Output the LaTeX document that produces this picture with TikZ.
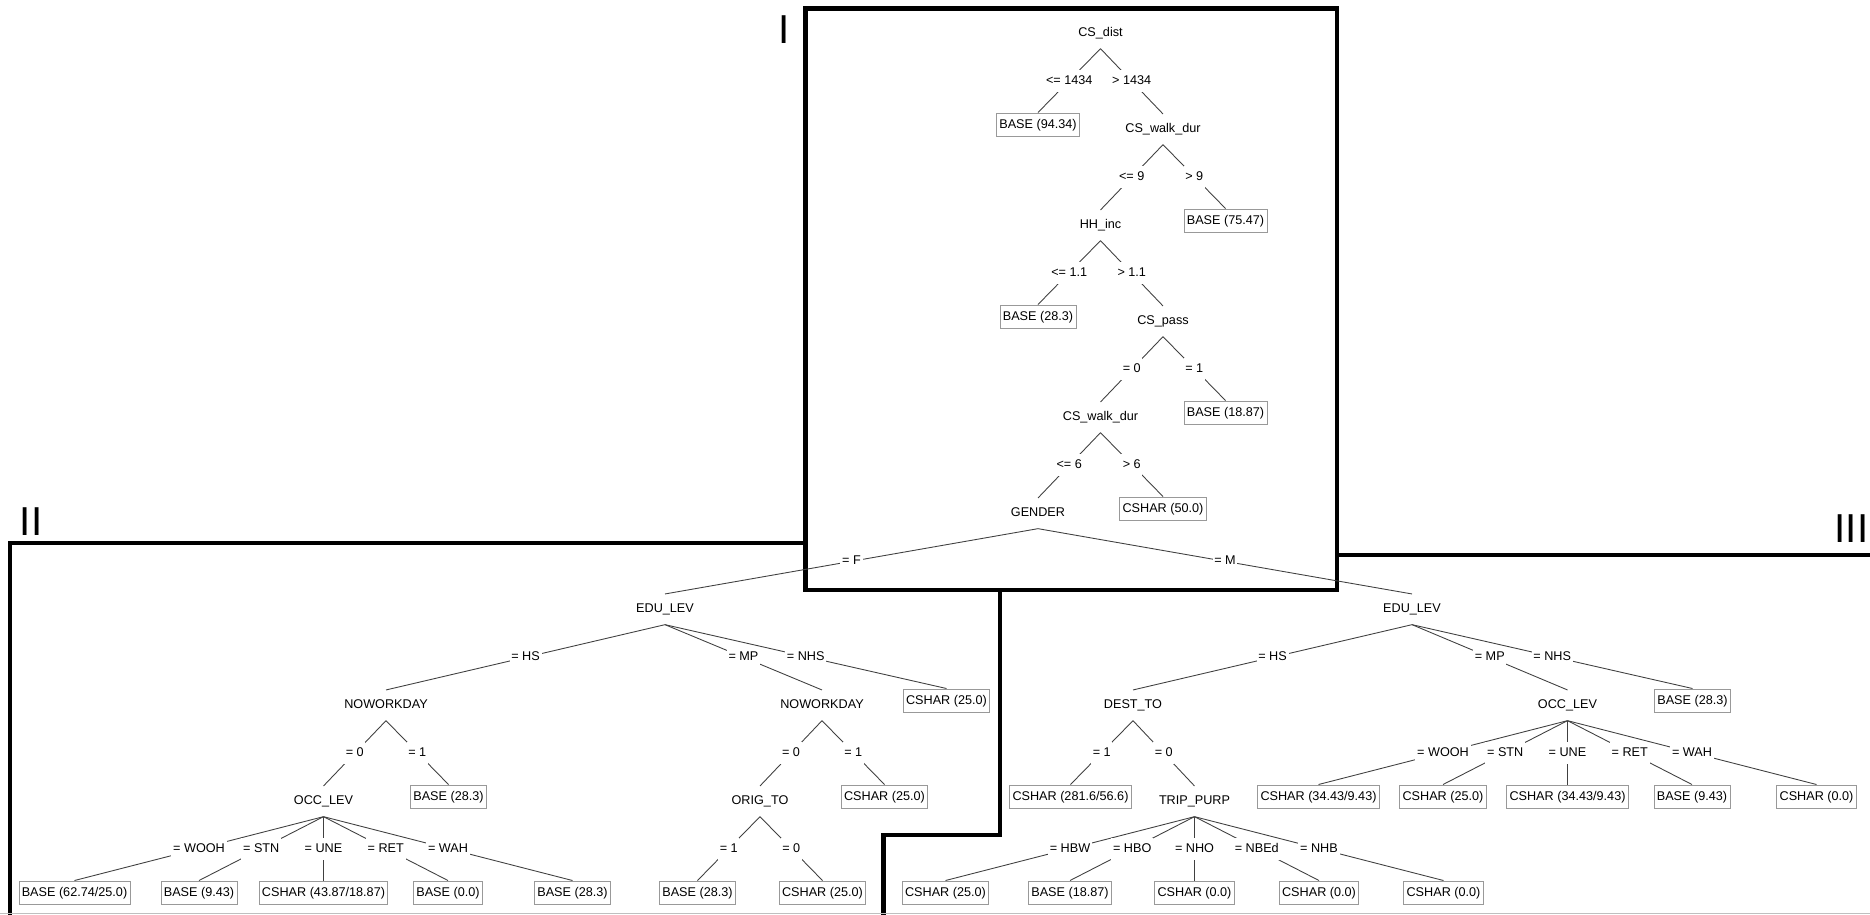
\documentclass[tikz,border=0pt]{standalone}
\usepackage{fontspec}
\setmainfont{Liberation Sans}

\tikzset{
    % Attribute (split) nodes
    splitnode/.style={
        inner sep=0pt,
        minimum height=0.6cm,
        text height=5.5pt,
        text depth=1.5pt,
        font=\fontsize{7.2}{8.6}\selectfont
    },
    % Leaf boxes (class and counts)
    leafbox/.style={
        draw=black!40,
        fill=white,
        inner xsep=1.6pt,
        inner ysep=0pt,
        minimum height=0.47cm,
        text height=5.5pt,
        text depth=1.5pt,
        font=\fontsize{7.2}{8.6}\selectfont
    },
    % Branch condition labels
    edgelabel/.style={
        fill=white,
        inner xsep=1pt,
        inner ysep=0pt,
        minimum height=0.44cm,
        text height=5.5pt,
        text depth=1.5pt,
        font=\fontsize{7.2}{8.6}\selectfont
    },
    % Tree branches
    branch/.style={
        draw=black!75,
        line width=0.5pt
    },
    % Thick region frames
    regionframe/.style={
        draw=black,
        line width=2.3pt
    },
    % Region numbers
    regionlabel/.style={
        inner sep=0pt,
        font=\fontsize{23}{26}\selectfont
    }
}

\begin{document}
\begin{tikzpicture}[x=0.02cm, y=-0.02cm]
\useasboundingbox (0,0) rectangle (1870,914);

% ==================== REGION FRAMES ====================
\draw[regionframe] (805.5,8.5) rectangle (1337,590);
\draw[regionframe] (805.5,543) -- (10,543) -- (10,916);
\draw[regionframe] (1000,590) -- (1000,835) -- (883.5,835) -- (883.5,916);
\draw[regionframe] (1337,555) -- (1872,555);
\draw[black!25] (0,913) -- (1870,913);

\node[regionlabel] (lab_one) at (783.7,29.7) {I};
\node[regionlabel] (lab_two) at (31,521.5) {II};
\node[regionlabel] (lab_three) at (1851.5,529) {III};

% ==================== REGION I: TRUNK ====================
\node[splitnode] (cs_dist) at (1100.5,33.3) {CS\_dist};
\node[leafbox] (base_a) at (1038,124.6) {BASE (94.34)};
\node[splitnode] (walk_a) at (1163,129.3) {CS\_walk\_dur};
\node[splitnode] (hh_inc) at (1100.5,225.3) {HH\_inc};
\node[leafbox] (base_b) at (1225.5,220.6) {BASE (75.47)};
\node[leafbox] (base_c) at (1038,316.6) {BASE (28.3)};
\node[splitnode] (cs_pass) at (1163,321.3) {CS\_pass};
\node[splitnode] (walk_b) at (1100.5,417.3) {CS\_walk\_dur};
\node[leafbox] (base_d) at (1225.5,412.6) {BASE (18.87)};
\node[splitnode] (gender) at (1038,513.3) {GENDER};
\node[leafbox] (cshar_a) at (1163,508.6) {CSHAR (50.0)};

\draw[branch] (cs_dist.south) -- node[edgelabel] {<= 1434} (base_a.north);
\draw[branch] (cs_dist.south) -- node[edgelabel] {> 1434} (walk_a.north);
\draw[branch] (walk_a.south) -- node[edgelabel] {<= 9} (hh_inc.north);
\draw[branch] (walk_a.south) -- node[edgelabel] {> 9} (base_b.north);
\draw[branch] (hh_inc.south) -- node[edgelabel] {<= 1.1} (base_c.north);
\draw[branch] (hh_inc.south) -- node[edgelabel] {> 1.1} (cs_pass.north);
\draw[branch] (cs_pass.south) -- node[edgelabel] {= 0} (walk_b.north);
\draw[branch] (cs_pass.south) -- node[edgelabel] {= 1} (base_d.north);
\draw[branch] (walk_b.south) -- node[edgelabel] {<= 6} (gender.north);
\draw[branch] (walk_b.south) -- node[edgelabel] {> 6} (cshar_a.north);

% ==================== REGION II: GENDER = F ====================
\node[splitnode] (edu_f) at (665,609.3) {EDU\_LEV};
\node[splitnode] (nowd_f1) at (386,705.3) {NOWORKDAY};
\node[splitnode] (nowd_f2) at (822,705.3) {NOWORKDAY};
\node[leafbox] (cshar_f1) at (946.5,700.6) {CSHAR (25.0)};
\node[splitnode] (occ_f) at (323.5,801.3) {OCC\_LEV};
\node[leafbox] (base_f1) at (448.5,796.6) {BASE (28.3)};
\node[splitnode] (orig_to) at (760,801.3) {ORIG\_TO};
\node[leafbox] (cshar_f2) at (884.5,796.6) {CSHAR (25.0)};

\node[leafbox] (base_f2) at (74.5,892.6) {BASE (62.74/25.0)};
\node[leafbox] (base_f3) at (199,892.6) {BASE (9.43)};
\node[leafbox] (cshar_f3) at (323.5,892.6) {CSHAR (43.87/18.87)};
\node[leafbox] (base_f4) at (448,892.6) {BASE (0.0)};
\node[leafbox] (base_f5) at (572.5,892.6) {BASE (28.3)};
\node[leafbox] (base_f6) at (697.5,892.6) {BASE (28.3)};
\node[leafbox] (cshar_f4) at (822.5,892.6) {CSHAR (25.0)};

\draw[branch] (gender.south) -- node[edgelabel] {= F} (edu_f.north);
\draw[branch] (edu_f.south) -- node[edgelabel] {= HS} (nowd_f1.north);
\draw[branch] (edu_f.south) -- node[edgelabel] {= MP} (nowd_f2.north);
\draw[branch] (edu_f.south) -- node[edgelabel] {= NHS} (cshar_f1.north);
\draw[branch] (nowd_f1.south) -- node[edgelabel] {= 0} (occ_f.north);
\draw[branch] (nowd_f1.south) -- node[edgelabel] {= 1} (base_f1.north);
\draw[branch] (nowd_f2.south) -- node[edgelabel] {= 0} (orig_to.north);
\draw[branch] (nowd_f2.south) -- node[edgelabel] {= 1} (cshar_f2.north);
\draw[branch] (occ_f.south) -- node[edgelabel] {= WOOH} (base_f2.north);
\draw[branch] (occ_f.south) -- node[edgelabel] {= STN} (base_f3.north);
\draw[branch] (occ_f.south) -- node[edgelabel] {= UNE} (cshar_f3.north);
\draw[branch] (occ_f.south) -- node[edgelabel] {= RET} (base_f4.north);
\draw[branch] (occ_f.south) -- node[edgelabel] {= WAH} (base_f5.north);
\draw[branch] (orig_to.south) -- node[edgelabel] {= 1} (base_f6.north);
\draw[branch] (orig_to.south) -- node[edgelabel] {= 0} (cshar_f4.north);

% ==================== REGION III: GENDER = M ====================
\node[splitnode] (edu_m) at (1412,609.3) {EDU\_LEV};
\node[splitnode] (dest_to) at (1133,705.3) {DEST\_TO};
\node[splitnode] (occ_m) at (1567.5,705.3) {OCC\_LEV};
\node[leafbox] (base_m1) at (1692.5,700.6) {BASE (28.3)};
\node[leafbox] (cshar_m1) at (1070.5,796.6) {CSHAR (281.6/56.6)};
\node[splitnode] (trip_purp) at (1194.5,801.3) {TRIP\_PURP};

\node[leafbox] (cshar_m2) at (1318.5,796.6) {CSHAR (34.43/9.43)};
\node[leafbox] (cshar_m3) at (1443,796.6) {CSHAR (25.0)};
\node[leafbox] (cshar_m4) at (1567.5,796.6) {CSHAR (34.43/9.43)};
\node[leafbox] (base_m2) at (1692,796.6) {BASE (9.43)};
\node[leafbox] (cshar_m5) at (1816.5,796.6) {CSHAR (0.0)};

\node[leafbox] (cshar_m6) at (945.5,892.6) {CSHAR (25.0)};
\node[leafbox] (base_m3) at (1070,892.6) {BASE (18.87)};
\node[leafbox] (cshar_m7) at (1194.5,892.6) {CSHAR (0.0)};
\node[leafbox] (cshar_m8) at (1319,892.6) {CSHAR (0.0)};
\node[leafbox] (cshar_m9) at (1443.5,892.6) {CSHAR (0.0)};

\draw[branch] (gender.south) -- node[edgelabel] {= M} (edu_m.north);
\draw[branch] (edu_m.south) -- node[edgelabel] {= HS} (dest_to.north);
\draw[branch] (edu_m.south) -- node[edgelabel] {= MP} (occ_m.north);
\draw[branch] (edu_m.south) -- node[edgelabel] {= NHS} (base_m1.north);
\draw[branch] (dest_to.south) -- node[edgelabel] {= 1} (cshar_m1.north);
\draw[branch] (dest_to.south) -- node[edgelabel] {= 0} (trip_purp.north);
\draw[branch] (occ_m.south) -- node[edgelabel] {= WOOH} (cshar_m2.north);
\draw[branch] (occ_m.south) -- node[edgelabel] {= STN} (cshar_m3.north);
\draw[branch] (occ_m.south) -- node[edgelabel] {= UNE} (cshar_m4.north);
\draw[branch] (occ_m.south) -- node[edgelabel] {= RET} (base_m2.north);
\draw[branch] (occ_m.south) -- node[edgelabel] {= WAH} (cshar_m5.north);
\draw[branch] (trip_purp.south) -- node[edgelabel] {= HBW} (cshar_m6.north);
\draw[branch] (trip_purp.south) -- node[edgelabel] {= HBO} (base_m3.north);
\draw[branch] (trip_purp.south) -- node[edgelabel] {= NHO} (cshar_m7.north);
\draw[branch] (trip_purp.south) -- node[edgelabel] {= NBEd} (cshar_m8.north);
\draw[branch] (trip_purp.south) -- node[edgelabel] {= NHB} (cshar_m9.north);

\end{tikzpicture}
\end{document}
